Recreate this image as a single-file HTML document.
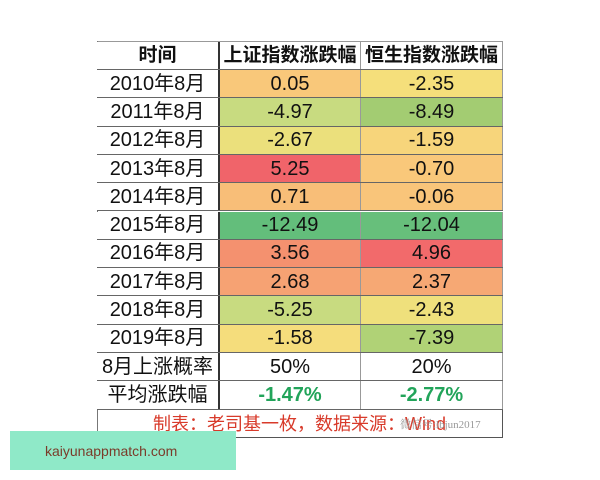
<!DOCTYPE html>
<html><head><meta charset="utf-8"><style>
body{margin:0;width:600px;height:480px;background:#fff;position:relative;overflow:hidden;font-family:"Liberation Sans","Noto Sans CJK SC",sans-serif;}
.r{position:absolute;left:97px;width:406px;height:28.3px;display:flex;box-sizing:border-box;border-bottom:1px solid #666;}
.c{box-sizing:border-box;display:flex;align-items:center;justify-content:center;font-size:20px;line-height:20px;color:#111;border-right:1px solid #999;height:100%;white-space:nowrap;}
.a{width:123px;background:#fff;border-right:2px solid #333;}
.b{width:141px;}
.d{width:142px;}
.h .c{font-weight:bold;font-size:19px;}
.g{color:#22a45a;font-weight:bold;}
</style></head><body>
<div style="position:absolute;left:97px;top:41px;width:406px;height:1px;background:#999"></div>
<div style="position:absolute;left:97px;top:41px;width:1px;height:397px;background:#777"></div>

<div class="r h" style="top:42px;height:28px"><div class="c a">时间</div><div class="c b">上证指数涨跌幅</div><div class="c d">恒生指数涨跌幅</div></div>
<div class="r" style="top:70px"><div class="c a">2010年8月</div><div class="c b" style="background:#f9c87a">0.05</div><div class="c d" style="background:#f5df7b">-2.35</div></div>
<div class="r" style="top:98.3px"><div class="c a">2011年8月</div><div class="c b" style="background:#c8db80">-4.97</div><div class="c d" style="background:#a3cc72">-8.49</div></div>
<div class="r" style="top:126.6px"><div class="c a">2012年8月</div><div class="c b" style="background:#ebe07c">-2.67</div><div class="c d" style="background:#f7d57b">-1.59</div></div>
<div class="r" style="top:154.9px"><div class="c a">2013年8月</div><div class="c b" style="background:#f0646a">5.25</div><div class="c d" style="background:#f9c87a">-0.70</div></div>
<div class="r" style="top:183.2px"><div class="c a">2014年8月</div><div class="c b" style="background:#f8be78">0.71</div><div class="c d" style="background:#f9c57a">-0.06</div></div>
<div class="r" style="top:211.5px"><div class="c a">2015年8月</div><div class="c b" style="background:#63be7b">-12.49</div><div class="c d" style="background:#67bf7b">-12.04</div></div>
<div class="r" style="top:239.8px"><div class="c a">2016年8月</div><div class="c b" style="background:#f4916f">3.56</div><div class="c d" style="background:#f26a6b">4.96</div></div>
<div class="r" style="top:268.1px"><div class="c a">2017年8月</div><div class="c b" style="background:#f6a273">2.68</div><div class="c d" style="background:#f6a874">2.37</div></div>
<div class="r" style="top:296.4px"><div class="c a">2018年8月</div><div class="c b" style="background:#c8db80">-5.25</div><div class="c d" style="background:#efe07c">-2.43</div></div>
<div class="r" style="top:324.7px"><div class="c a">2019年8月</div><div class="c b" style="background:#f5dd7c">-1.58</div><div class="c d" style="background:#b0d276">-7.39</div></div>
<div class="r" style="top:353px"><div class="c a">8月上涨概率</div><div class="c b">50%</div><div class="c d">20%</div></div>
<div class="r" style="top:381.3px"><div class="c a">平均涨跌幅</div><div class="c b g">-1.47%</div><div class="c d g">-2.77%</div></div>

<div style="position:absolute;left:97px;top:410px;width:406px;height:28px;box-sizing:border-box;border-right:1px solid #555;border-bottom:1px solid #555;display:flex;align-items:center;justify-content:center;color:#d83a2a;font-size:18px;line-height:18px;">制表：老司基一枚，数据来源：Wind</div>
<div style="position:absolute;left:400px;top:416px;font-size:11px;color:#999;font-family:'Liberation Serif','Noto Serif CJK SC',serif">微信号:lbjun2017</div>
<div style="position:absolute;left:10px;top:431px;width:226px;height:39px;background:#8fe9c8;color:#7a3b2a;font-size:14px;display:flex;align-items:center;padding-left:35px;box-sizing:border-box">kaiyunappmatch.com</div>
</body></html>
